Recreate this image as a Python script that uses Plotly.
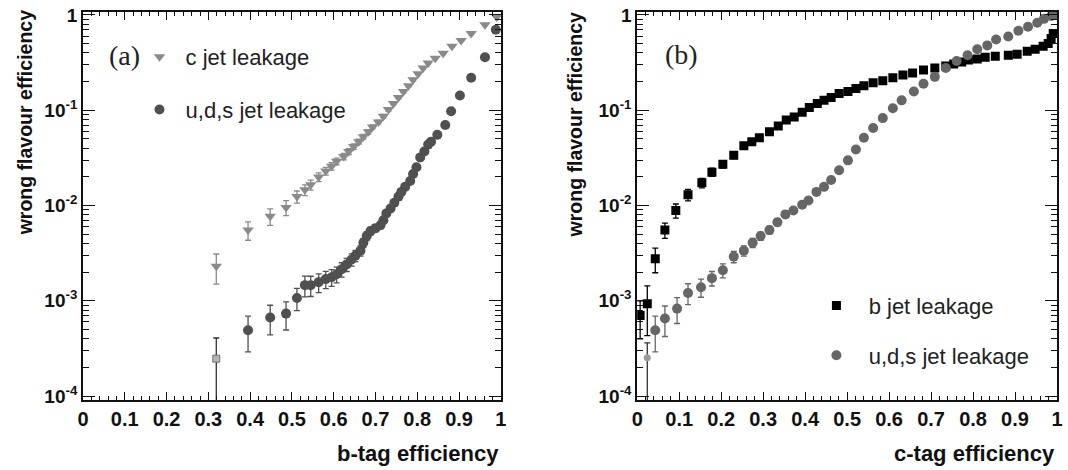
import plotly.graph_objects as go

# ---------------- data ----------------
# panel (a): b-tag efficiency
ca_x = [0.319,0.395,0.448,0.486,0.512,0.531,0.545,0.564,0.581,0.595,0.607,0.624,0.636,0.648,0.660,
        0.671,0.683,0.693,0.707,0.719,0.731,0.743,0.755,0.767,0.779,0.790,0.802,0.814,0.826,0.843,
        0.862,0.883,0.905,0.929,0.962,0.990]
ca_y = [0.00230,0.00552,0.00770,0.00953,0.0124,0.0146,0.0165,0.0199,0.0230,0.0258,0.0291,0.0327,
        0.0369,0.0416,0.0468,0.0527,0.0593,0.0668,0.0752,0.0867,0.102,0.118,0.136,0.157,0.181,
        0.209,0.241,0.278,0.313,0.352,0.396,0.468,0.540,0.637,0.789,0.954]
ca_err = [0.0008,0.0012,0.0015,0.0017,0.0018,0.0019,0.0020,0.0021,0.0022,0.0023,0.0024,0.0025,
          0.0026,0.0027,0.0028,0.0030,0.0031,0.0032,0.0034,0.0036,0.0038,0.0040,0.0043,0.0046,0.0049,
          0.0052,0.0056,0.0060,0.0064,0.0068,0.0072,0.0078,0.0084,0.0090,0.0100,0.0110]

ua_x = [0.395,0.448,0.486,0.512,0.531,0.545,0.564,0.581,0.595,0.607,0.619,0.631,0.643,0.652,0.664,
        0.671,0.679,0.688,0.700,0.712,0.719,0.726,0.736,0.745,0.755,0.762,0.771,0.783,0.790,0.798,
        0.807,0.817,0.826,0.833,0.848,0.867,0.881,0.902,0.929,0.962,0.988]
ua_y = [0.000491,0.000668,0.000734,0.00107,0.00146,0.00146,0.00157,0.00169,0.00177,0.00190,
        0.00214,0.00241,0.00271,0.00298,0.00336,0.00406,0.00479,0.00539,0.00579,0.00622,
        0.00700,0.00827,0.00931,0.0107,0.0124,0.0139,0.0157,0.0181,0.0214,0.0252,
        0.0320,0.0369,0.0436,0.0468,0.0552,0.0700,0.0977,0.143,0.219,0.360,0.700]
ua_err = [0.00020,0.00023,0.00024,0.00028,0.00036,0.00035,0.00035,0.00035,0.00035,0.00036,
          0.00037,0.00038,0.00040,0.00040,0.00042,0.00045,0.00050,0.00050,0.00050,0.00050,
          0.00055,0.00060,0.00065,0.00070,0.00075,0.00080,0.00085,0.00090,0.0010,0.0011,
          0.0012,0.0013,0.0014,0.0015,0.0017,0.0019,0.0022,0.0027,0.0033,0.0042,0.0060]

ua0_x = [0.319]
ua0_y = [0.000247]
ua0_up = [0.00016]
ua0_dn = [0.000240]

# panel (b): c-tag efficiency
bb_x = [0.007,0.024,0.043,0.066,0.092,0.121,0.154,0.178,0.204,0.230,0.254,0.273,0.291,0.315,0.336,
        0.355,0.374,0.393,0.410,0.429,0.445,0.462,0.481,0.502,0.521,0.540,0.562,0.585,0.609,0.633,
        0.656,0.682,0.709,0.735,0.754,0.773,0.789,0.810,0.829,0.853,0.884,0.905,0.929,0.948,0.967,
        0.979,0.986,0.991]
bb_y = [0.000700,0.000932,0.00277,0.00552,0.00888,0.0130,0.0173,0.0224,0.0271,0.0336,0.0425,
        0.0468,0.0514,0.0593,0.0684,0.0788,0.0847,0.0953,0.107,0.118,0.127,0.136,0.150,0.157,
        0.169,0.181,0.194,0.204,0.219,0.235,0.246,0.265,0.278,0.291,0.305,0.320,0.336,0.344,
        0.360,0.369,0.378,0.387,0.416,0.436,0.468,0.502,0.566,0.637]
bb_err = [0.0003,0.0005,0.0008,0.0010,0.0015,0.0018,0.0020,0.0022,0.0024,0.0026,0.0028,0.0030,
          0.0031,0.0033,0.0035,0.0037,0.0038,0.0040,0.0042,0.0044,0.0045,0.0046,0.0048,0.0050,
          0.0051,0.0053,0.0054,0.0056,0.0058,0.0060,0.0061,0.0063,0.0065,0.0066,0.0068,0.0070,
          0.0072,0.0073,0.0075,0.0077,0.0080,0.0082,0.0085,0.0090,0.0095,0.010,0.011,0.012]

ub_x = [0.043,0.066,0.095,0.121,0.152,0.178,0.204,0.230,0.254,0.275,0.294,0.315,0.334,0.353,0.372,
        0.393,0.408,0.427,0.445,0.462,0.481,0.502,0.521,0.540,0.562,0.585,0.609,0.630,0.659,0.682,
        0.709,0.735,0.761,0.787,0.810,0.834,0.855,0.884,0.908,0.931,0.953,0.969,0.986,0.995]
ub_y = [0.000491,0.000652,0.000828,0.00121,0.00139,0.00173,0.00209,0.00291,0.00336,0.00406,
        0.00479,0.00552,0.00668,0.00807,0.00888,0.0102,0.0113,0.0139,0.0157,0.0185,
        0.0235,0.0298,0.0387,0.0514,0.0652,0.0827,0.105,0.127,0.157,0.190,
        0.224,0.278,0.328,0.378,0.436,0.479,0.553,0.593,0.684,0.752,0.827,0.910,0.977,1.0]
ub_err = [0.00020,0.00023,0.00025,0.00030,0.00030,0.00030,0.00035,0.00040,0.00042,0.00045,
          0.00048,0.00050,0.00055,0.00060,0.00062,0.00065,0.00068,0.00075,0.00080,0.00085,
          0.00095,0.0011,0.0012,0.0014,0.0016,0.0018,0.0020,0.0022,0.0025,0.0028,
          0.0030,0.0033,0.0036,0.0038,0.0041,0.0043,0.0046,0.0048,0.0051,0.0054,0.0057,0.0060,0.0062,0.0063]

ub0_x = [0.024]
ub0_y = [0.000252]
ub0_up = [0.00011]
ub0_dn = [0.000245]

x_ticks = [0, 0.1, 0.2, 0.3, 0.4, 0.5, 0.6, 0.7, 0.8, 0.9, 1]
x_ticktext = ["0", "0.1", "0.2", "0.3", "0.4", "0.5", "0.6", "0.7", "0.8", "0.9", "1"]
y_ticks = [1e-4, 1e-3, 1e-2, 1e-1, 1]
y_ticktext = ["10<sup>-4</sup>", "10<sup>-3</sup>", "10<sup>-2</sup>", "10<sup>-1</sup>", "1"]

C_C = "#8a8a8a"
C_UA = "#505050"
C_B = "#000000"
C_UB = "#666666"

fig = go.Figure()

def err(arr, color, minus=None):
    d = dict(type="data", array=arr, color=color, thickness=1.3, width=3, visible=True)
    if minus is not None:
        d["symmetric"] = False
        d["arrayminus"] = minus
    return d

fig.add_trace(go.Scatter(x=ca_x, y=ca_y, mode="markers", name=" c jet leakage",
                         marker=dict(symbol="triangle-down", size=10, color=C_C),
                         error_y=err(ca_err, C_C), xaxis="x", yaxis="y",
                         legend="legend", legendgroup="a1"))
fig.add_trace(go.Scatter(x=ua_x, y=ua_y, mode="markers", name=" u,d,s jet leakage",
                         marker=dict(symbol="circle", size=10, color=C_UA),
                         error_y=err(ua_err, C_UA), xaxis="x", yaxis="y",
                         legend="legend", legendgroup="a2"))
fig.add_trace(go.Scatter(x=ua0_x, y=ua0_y, mode="markers", showlegend=False,
                         marker=dict(symbol="square", size=7, color="#b5b5b5",
                                     line=dict(color="#707070", width=1)),
                         error_y=err(ua0_up, "#303030", ua0_dn), xaxis="x", yaxis="y"))

fig.add_trace(go.Scatter(x=bb_x, y=bb_y, mode="markers", name="  b jet leakage",
                         marker=dict(symbol="square", size=9, color=C_B),
                         error_y=err(bb_err, C_B), xaxis="x2", yaxis="y2",
                         legend="legend2", legendgroup="b1"))
fig.add_trace(go.Scatter(x=ub_x, y=ub_y, mode="markers", name="  u,d,s jet leakage",
                         marker=dict(symbol="circle", size=10, color=C_UB),
                         error_y=err(ub_err, C_UB), xaxis="x2", yaxis="y2",
                         legend="legend2", legendgroup="b2"))
fig.add_trace(go.Scatter(x=ub0_x, y=ub0_y, mode="markers", showlegend=False,
                         marker=dict(symbol="circle", size=7, color="#9a9a9a"),
                         error_y=err(ub0_up, "#303030", ub0_dn), xaxis="x2", yaxis="y2"))

minor_x = [i / 50 for i in range(51) if i % 5 != 0]
minor_y = [m * 10 ** e for e in range(-4, 1) for m in range(2, 10) if m * 10 ** e < 1.1]

def xax(domain, anchor):
    return dict(domain=domain, anchor=anchor, range=[0, 1], tickmode="array",
                tickvals=x_ticks, ticktext=x_ticktext, ticks="inside", ticklen=8, tickwidth=1.3,
                tickcolor="#111", showline=True, linecolor="#111", linewidth=1.8, mirror="allticks",
                showgrid=False, zeroline=False, ticklabeloverflow="allow",
                tickfont=dict(family="Liberation Sans", size=20, color="#111", weight="bold"),
                minor=dict(tickmode="array", tickvals=minor_x, ticks="inside", ticklen=4,
                           tickwidth=1, tickcolor="#111", showgrid=False))

def yax(anchor):
    return dict(anchor=anchor, type="log", range=[-4.041, 0.031], tickmode="array",
                tickvals=y_ticks, ticktext=y_ticktext, ticks="inside", ticklen=12, tickwidth=1.3,
                tickcolor="#111", showline=True, linecolor="#111", linewidth=1.8, mirror="allticks",
                showgrid=False, zeroline=False, domain=[0, 1], ticklabeloverflow="allow",
                tickfont=dict(family="Liberation Sans", size=19, color="#111", weight="bold"),
                minor=dict(tickmode="array", tickvals=minor_y, ticks="inside", ticklen=6,
                           tickwidth=1, tickcolor="#111", showgrid=False))

leg_font = dict(family="Liberation Sans", size=22, color="#222")
title_font_x = dict(family="Liberation Sans", size=22, color="#111", weight="bold")
title_font_y = dict(family="Liberation Sans", size=19.5, color="#111", weight="bold")
fig.update_layout(
    width=1068, height=470,
    margin=dict(l=83, r=6, t=5, b=70),
    paper_bgcolor="white", plot_bgcolor="white",
    xaxis=xax([0, 0.429], "y"),
    yaxis=yax("x"),
    xaxis2=xax([0.569, 1.0], "y2"),
    yaxis2=yax("x2"),
    legend=dict(x=0.058, y=0.938, xanchor="left", yanchor="top", font=leg_font,
                bgcolor="rgba(0,0,0,0)", traceorder="grouped", tracegroupgap=21),
    legend2=dict(x=0.753, y=0.297, xanchor="left", yanchor="top", font=leg_font,
                 bgcolor="rgba(0,0,0,0)", traceorder="grouped", tracegroupgap=18),
    annotations=[
        dict(text="b-tag efficiency", xref="paper", yref="paper", x=0.429, y=-0.139,
             xanchor="right", yanchor="middle", showarrow=False, font=title_font_x),
        dict(text="c-tag efficiency", xref="paper", yref="paper", x=1.0, y=-0.139,
             xanchor="right", yanchor="middle", showarrow=False, font=title_font_x),
        dict(text="wrong flavour efficiency", xref="paper", yref="paper", x=-0.0592, y=0.714,
             xanchor="center", yanchor="middle", textangle=-90, showarrow=False,
             font=title_font_y),
        dict(text="wrong flavour efficiency", xref="paper", yref="paper", x=0.5046, y=0.709,
             xanchor="center", yanchor="middle", textangle=-90, showarrow=False,
             font=title_font_y),
        dict(text="(a)", xref="paper", yref="paper", x=0.0429, y=0.888,
             xanchor="center", yanchor="middle", showarrow=False,
             font=dict(family="Liberation Serif", size=28, color="#222")),
        dict(text="(b)", xref="paper", yref="paper", x=0.614, y=0.891,
             xanchor="center", yanchor="middle", showarrow=False,
             font=dict(family="Liberation Serif", size=28, color="#222")),
    ],
)

fig.write_html("out.html", config={"displayModeBar": False},
               post_script="document.body.style.margin='0';document.body.style.overflow='hidden';")
